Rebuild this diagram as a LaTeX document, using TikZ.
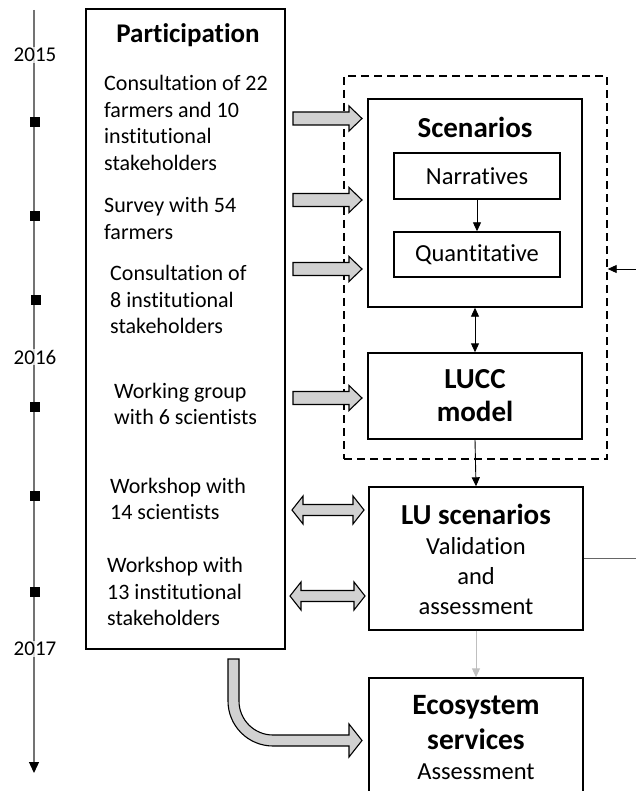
\documentclass[tikz,border=0pt]{standalone}
\usepackage{fontspec}
\setmainfont{Carlito}[Ligatures=NoCommon]
\usetikzlibrary{arrows.meta}
\newcommand\myfs[2]{\fontsize{#1}{#2}\selectfont}
\newcommand\blkR[3]{%
  \draw[blk] (#1,#3-6.5) -- (#2-13,#3-6.5) -- (#2-13,#3-12.5) -- (#2,#3)
    -- (#2-13,#3+12.5) -- (#2-13,#3+6.5) -- (#1,#3+6.5) -- cycle;}
\newcommand\blkD[3]{%
  \draw[blk] (#1,#3) -- (#1+11,#3-14) -- (#1+11,#3-5.5) -- (#2-11,#3-5.5)
    -- (#2-11,#3-14) -- (#2,#3) -- (#2-11,#3+14) -- (#2-11,#3+5.5)
    -- (#1+11,#3+5.5) -- (#1+11,#3+14) -- cycle;}
\begin{document}
\begin{tikzpicture}[x=1pt,y=-1pt,
  bx/.style={draw=black, line width=1.4pt, inner sep=0pt},
  txt/.style={inner sep=0pt, font=\myfs{22}{26.5}, align=left, anchor=west},
  ctxt/.style={inner sep=0pt, font=\myfs{24.5}{30}, align=center},
  ttl/.style={inner sep=0pt, font=\bfseries\myfs{29}{33}, align=center},
  blk/.style={draw=black, line width=1.1pt, fill=black!18, line join=miter},
  conn/.style={line width=0.9pt, -{Triangle[width=8pt,length=9pt]}},
  yr/.style={inner sep=1pt, font=\myfs{21}{26}, fill=white, fill opacity=0.75, text opacity=1},
  msq/.style={fill=black, inner sep=0pt, minimum size=10pt},
]
\useasboundingbox (0,0) rectangle (636,791);
\clip (0,0) rectangle (636,791);

% timeline
\coordinate (ttop) at (34,10);
\coordinate (tbot) at (34,773);
\draw[line width=1.3pt, black!55, -{Triangle[black,width=10pt,length=11pt]}] (ttop) -- (tbot);
\node[yr] (y15) at (35,55) {2015};
\node[yr] (y16) at (35,357) {2016};
\node[yr] (y17) at (35,649) {2017};
\node[msq] (m1) at (35,122) {};
\node[msq] (m2) at (35,216) {};
\node[msq] (m3) at (36,300) {};
\node[msq] (m4) at (35,407) {};
\node[msq] (m5) at (35,496) {};
\node[msq] (m6) at (35,592) {};

% participation
\node[bx, minimum width=199pt, minimum height=640pt] (part) at (185.5,329) {};
\node[ttl, font=\bfseries\myfs{27}{33}] (pt) at (188,35) {Participation};
\node[txt] (p1) at (104,123) {Consultation of 22\\farmers and 10\\institutional\\stakeholders};
\node[txt] (p2) at (104,218.5) {Survey with 54\\farmers};
\node[txt] (p3) at (110,299.5) {Consultation of\\8 institutional\\stakeholders};
\node[txt] (p4) at (114,404) {Working group\\with 6 scientists};
\node[txt] (p5) at (110,499) {Workshop with\\14 scientists};
\node[txt] (p6) at (107,591.5) {Workshop with\\13 institutional\\stakeholders};

% dashed frame
\node[draw=black, line width=1.4pt, dash pattern=on 8pt off 5pt, inner sep=0pt,
      minimum width=263pt, minimum height=383pt] (dash) at (475.5,267.5) {};

% scenarios
\node[bx, minimum width=214pt, minimum height=208pt] (scen) at (475,203) {};
\node[ttl] (st) at (475,127) {Scenarios};
\node[bx, ctxt, minimum width=166pt, minimum height=46pt] (narr) at (477,176) {Narratives};
\node[bx, ctxt, minimum width=166pt, minimum height=45pt] (quan) at (477,254.5) {Quantitative};

% LUCC
\node[bx, ttl, minimum width=214pt, minimum height=86pt] (lucc) at (475,396) {LUCC\\model};

% LU scenarios
\node[bx, minimum width=214pt, minimum height=143pt] (lu) at (476,558.5) {};
\node[ttl] (lut) at (476,514) {LU scenarios};
\node[ctxt] (lub) at (476,576) {Validation\\and\\assessment};

% Ecosystem services
\node[bx, minimum width=214pt, minimum height=160pt] (eco) at (476,758) {};
\node[ttl, font=\bfseries\myfs{29.5}{35}] (ecot) at (476,722.5) {Ecosystem\\services};
\node[ctxt] (ecob) at (476,772) {Assessment};

% connectors
\draw[conn] (narr) -- (quan);
\draw[conn, {Triangle[width=8pt,length=9pt]}-{Triangle[width=8pt,length=9pt]}] (scen) -- (lucc);
\draw[conn] (lucc.south) -- (lu.north);
\draw[conn, black!25] (lu.south -| eco.north) -- (eco.north);
\coordinate (rin) at (636,269);
\draw[conn] (rin) -- (rin -| dash.east);
\coordinate (rout) at (636,558.5);
\draw[line width=0.9pt, black!60] (lu.east) -- (rout);

% block arrows
\blkR{293}{362}{118.5}
\blkR{293}{362}{200}
\blkR{293}{362}{269}
\blkR{293}{362}{398}
\blkD{292}{364}{510}
\blkD{290}{365}{596}
\draw[blk] (228,659) -- (228,701) .. controls (228,725.85) and (248.15,746) .. (273,746)
  -- (349,746) -- (349,757) -- (362,740.5) -- (349,724) -- (349,735) -- (273,735)
  .. controls (254.22,735) and (239,719.78) .. (239,701) -- (239,659) -- cycle;
\end{tikzpicture}
\end{document}
